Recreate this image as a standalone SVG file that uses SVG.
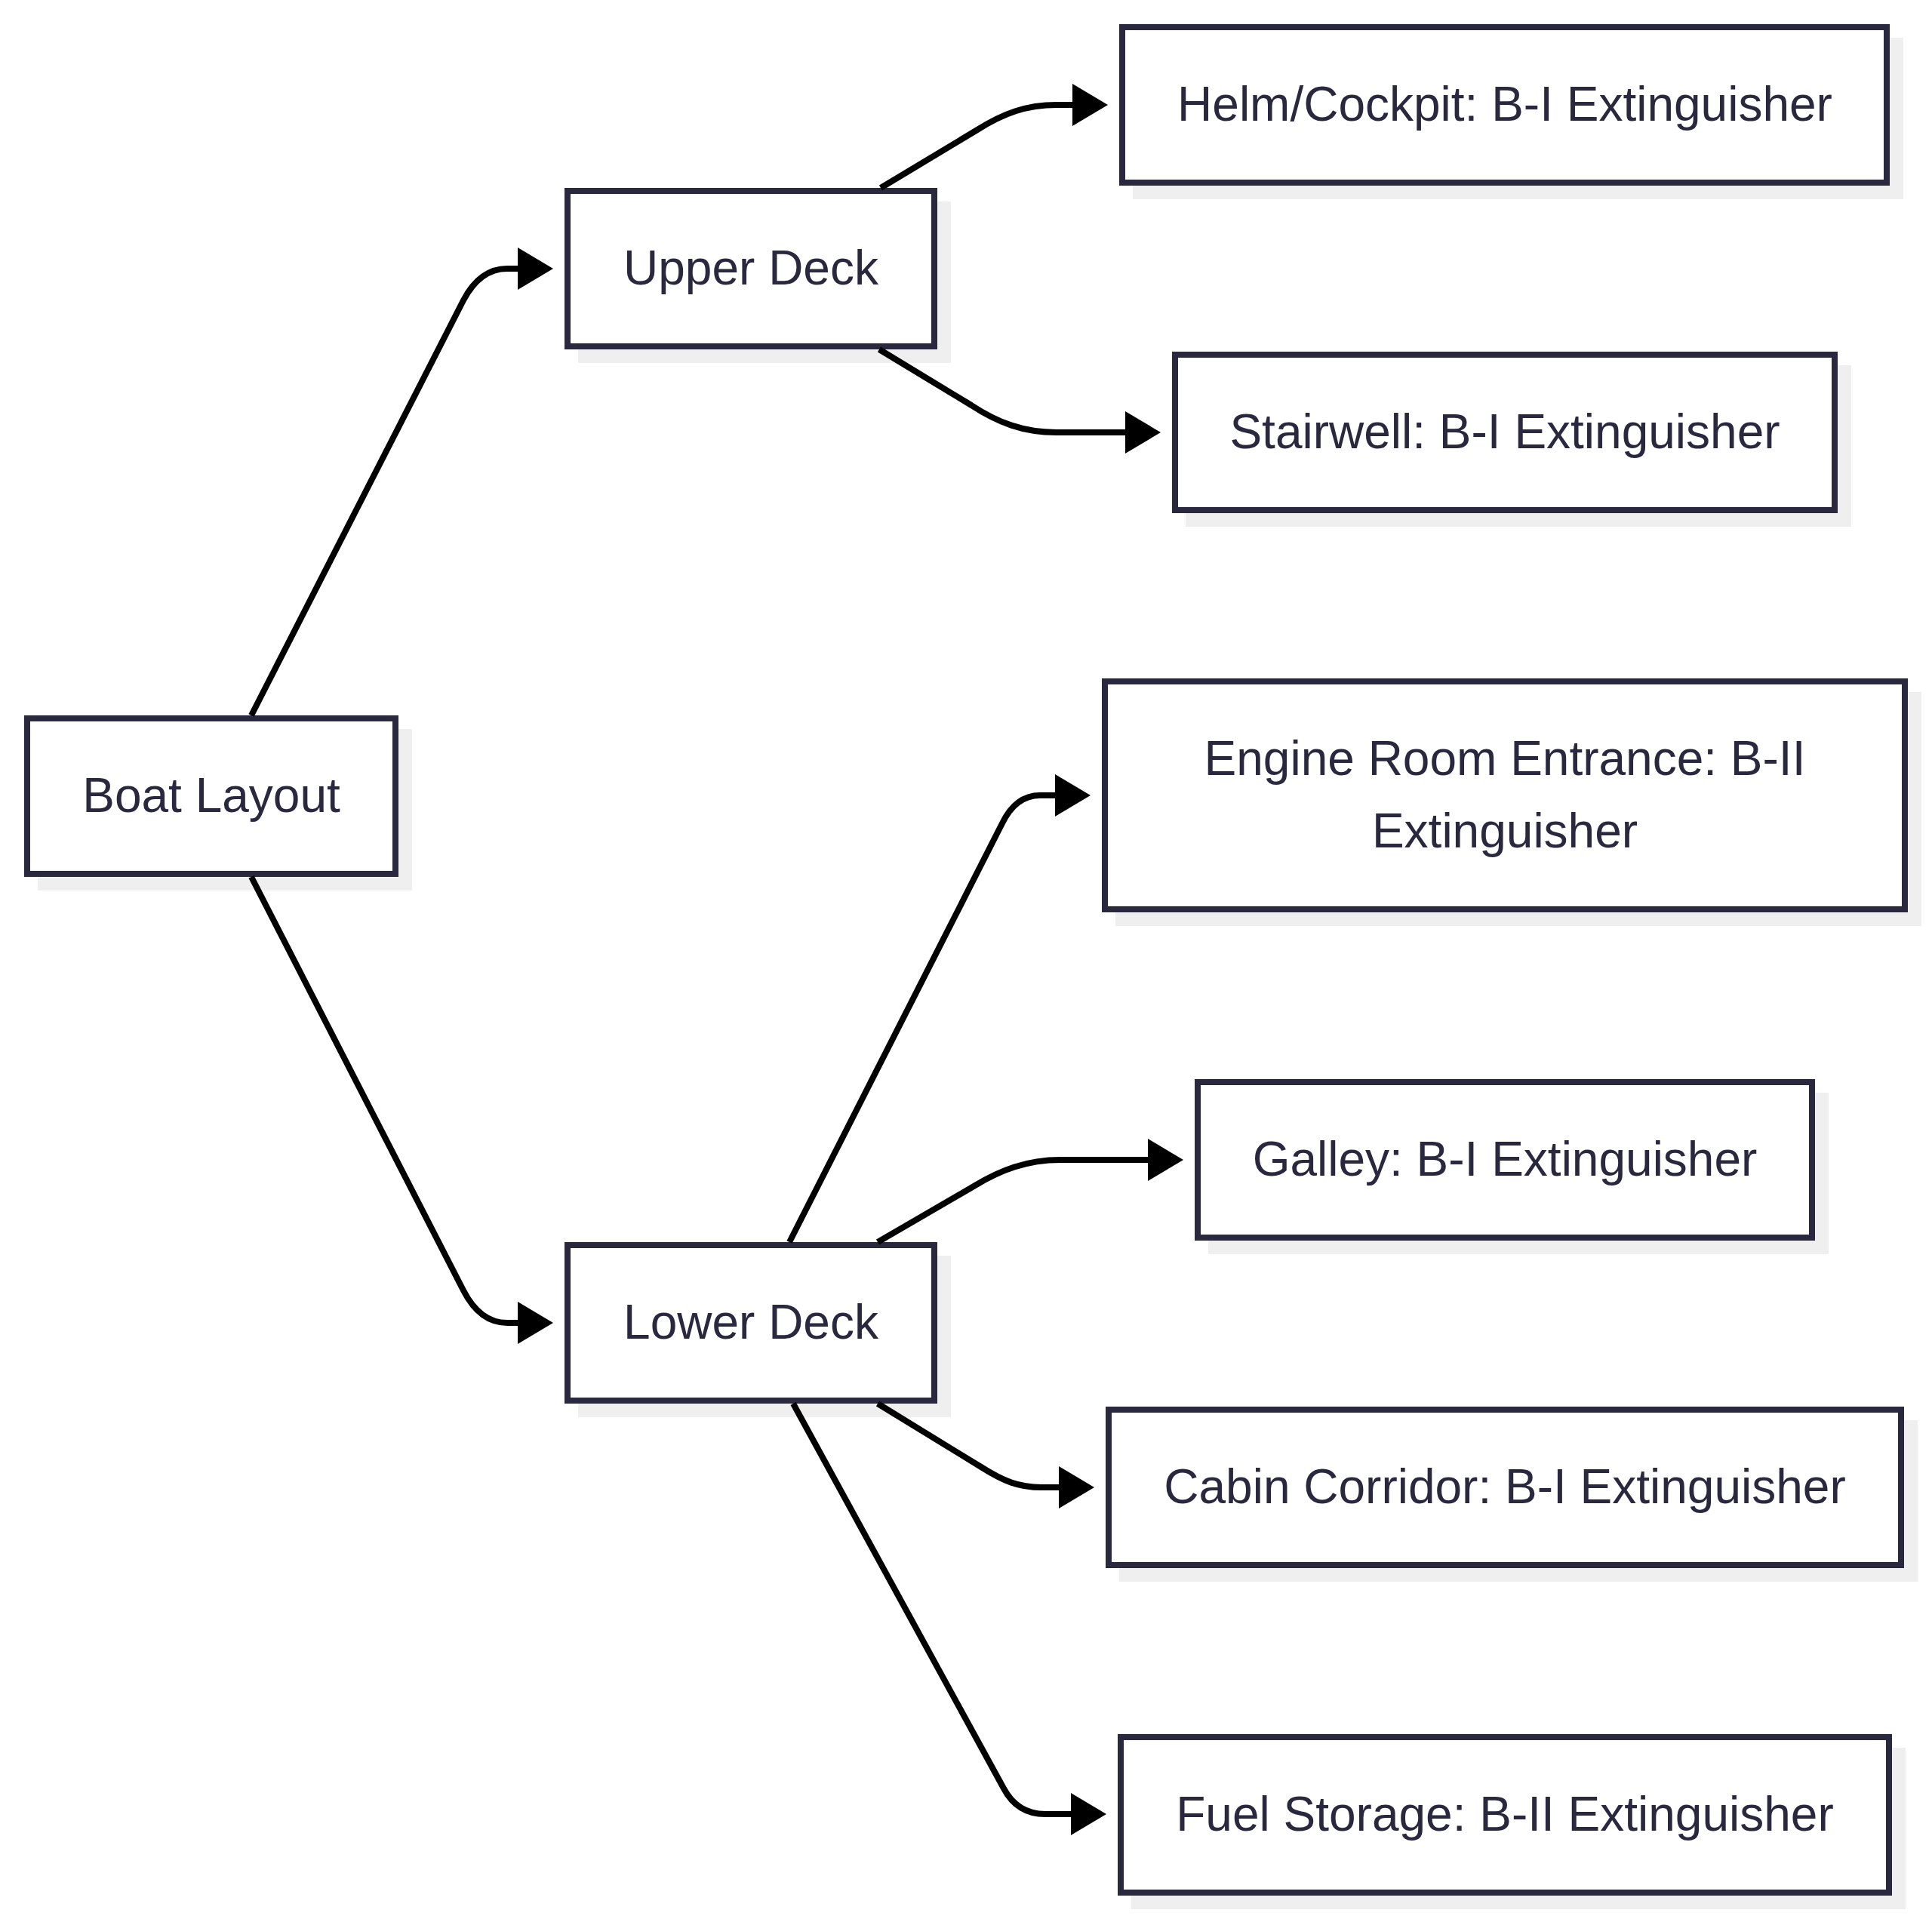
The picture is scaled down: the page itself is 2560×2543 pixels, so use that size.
<svg xmlns="http://www.w3.org/2000/svg" width="2560" height="2543" viewBox="0 0 2560 2543">
<style>
.box{fill:#ffffff;stroke:#29283e;stroke-width:8}
.shadow{fill:#efefef;stroke:#efefef;stroke-width:8}
.lbl{font-family:"Liberation Sans",Arial,sans-serif;font-size:64px;fill:#29283e;text-anchor:middle}
.edge{fill:none;stroke:#000000;stroke-width:8}
</style>
<defs>
<marker id="arrow" viewBox="0 0 47 56" markerWidth="47" markerHeight="56" refX="0" refY="28" markerUnits="userSpaceOnUse" orient="auto">
<path d="M0,0 L47,28 L0,56 z" fill="#000000"/>
</marker>
</defs>
<rect width="2560" height="2543" fill="#ffffff"/>
<g id="node-boat">
<rect class="shadow" x="54" y="970" width="488" height="206"/>
<rect class="box" x="36" y="952" width="488" height="206"/>
<text class="lbl" x="280" y="1076">Boat Layout</text>
</g>
<g id="node-upper">
<rect class="shadow" x="770" y="271" width="486" height="206"/>
<rect class="box" x="752" y="253" width="486" height="206"/>
<text class="lbl" x="995" y="377">Upper Deck</text>
</g>
<g id="node-lower">
<rect class="shadow" x="770" y="1668" width="486" height="206"/>
<rect class="box" x="752" y="1650" width="486" height="206"/>
<text class="lbl" x="995" y="1774">Lower Deck</text>
</g>
<g id="node-helm">
<rect class="shadow" x="1505" y="54" width="1013" height="206"/>
<rect class="box" x="1487" y="36" width="1013" height="206"/>
<text class="lbl" x="1994" y="160">Helm/Cockpit: B-I Extinguisher</text>
</g>
<g id="node-stairwell">
<rect class="shadow" x="1575" y="488" width="874" height="206"/>
<rect class="box" x="1557" y="470" width="874" height="206"/>
<text class="lbl" x="1994" y="594">Stairwell: B-I Extinguisher</text>
</g>
<g id="node-engine">
<rect class="shadow" x="1482" y="921" width="1060" height="302"/>
<rect class="box" x="1464" y="903" width="1060" height="302"/>
<text class="lbl" x="1994" y="1027">Engine Room Entrance: B-II</text>
<text class="lbl" x="1994" y="1123">Extinguisher</text>
</g>
<g id="node-galley">
<rect class="shadow" x="1605" y="1452" width="814" height="206"/>
<rect class="box" x="1587" y="1434" width="814" height="206"/>
<text class="lbl" x="1994" y="1558">Galley: B-I Extinguisher</text>
</g>
<g id="node-cabin">
<rect class="shadow" x="1487" y="1886" width="1050" height="206"/>
<rect class="box" x="1469" y="1868" width="1050" height="206"/>
<text class="lbl" x="1994" y="1992">Cabin Corridor: B-I Extinguisher</text>
</g>
<g id="node-fuel">
<rect class="shadow" x="1503" y="2320" width="1018" height="206"/>
<rect class="box" x="1485" y="2302" width="1018" height="206"/>
<text class="lbl" x="1994" y="2426">Fuel Storage: B-II Extinguisher</text>
</g>
<g id="connectors">
<path class="edge" marker-end="url(#arrow)" d="M333,948 L614,398 Q636,356 672,356 L686,356"/>
<path class="edge" marker-end="url(#arrow)" d="M333,1162 L614,1710 Q636,1753 672,1753 L686,1753"/>
<path class="edge" marker-end="url(#arrow)" d="M1167,249 L1295,172 C1330,150 1360,139 1400,139 L1421,139"/>
<path class="edge" marker-end="url(#arrow)" d="M1165,463 L1287,537 C1322,560 1356,573 1400,573 L1491,573"/>
<path class="edge" marker-end="url(#arrow)" d="M1046,1646 L1328,1091 Q1346,1054 1378,1054 L1398,1054"/>
<path class="edge" marker-end="url(#arrow)" d="M1163,1646 L1292,1571 C1325,1551 1360,1537 1405,1537 L1521,1537"/>
<path class="edge" marker-end="url(#arrow)" d="M1163,1860 L1300,1944 C1330,1963 1350,1971 1380,1971 L1403,1971"/>
<path class="edge" marker-end="url(#arrow)" d="M1051,1860 L1330,2370 Q1348,2404 1385,2404 L1419,2404"/>
</g>
</svg>
